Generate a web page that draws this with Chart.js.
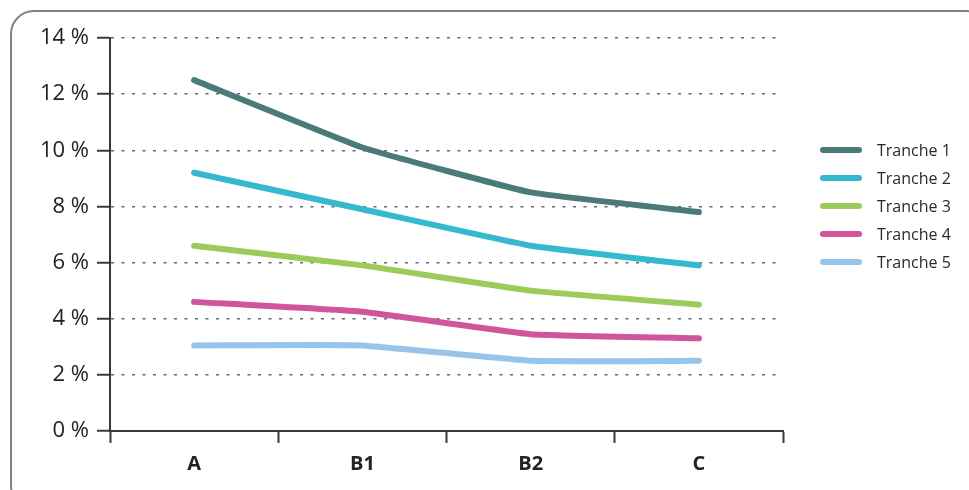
<!DOCTYPE html>
<html>
<head>
<meta charset="utf-8">
<script src="https://cdn.jsdelivr.net/npm/chart.js@4.4.0/dist/chart.umd.min.js"></script>
<style>
  html, body { margin: 0; padding: 0; background: #fff; }
  #wrap { position: relative; width: 969px; height: 490px; overflow: hidden; font-family: "Open Sans", "Noto Sans", sans-serif; }
  #frame { position: absolute; left: 10px; top: 10px; width: 980px; height: 500px; border: 2px solid #7d828c; border-radius: 24px; box-sizing: border-box; }
  #c { position: absolute; left: 0; top: 0; }
  #legend { position: absolute; left: 820px; top: 136px; }
  .item { height: 28px; display: flex; align-items: center; }
  .sw { width: 42px; height: 6px; border-radius: 3px; margin-right: 15px; }
  .lbl { font-size: 16px; color: #2b2b2b; }
</style>
</head>
<body>
<div id="wrap">
  <div id="frame"></div>
  <canvas id="c" width="969" height="490"></canvas>
  <div id="legend"></div>
</div>
<script>
const categories = ["A", "B1", "B2", "C"];
const seriesNames = ["Tranche 1", "Tranche 2", "Tranche 3", "Tranche 4", "Tranche 5"];
const tranche1 = [12.5, 10.1, 8.5, 7.8];
const tranche2 = [9.2, 7.9, 6.6, 5.9];
const tranche3 = [6.6, 5.9, 5.0, 4.5];
const tranche4 = [4.6, 4.25, 3.45, 3.3];
const tranche5 = [3.05, 3.05, 2.5, 2.5];
const yTicks = [0, 2, 4, 6, 8, 10, 12, 14];
const colors = ["#4a7b79", "#36b8cf", "#9dcb5b", "#d0559a", "#98c4ea"];

const seriesValues = [tranche1, tranche2, tranche3, tranche4, tranche5];

const legend = document.getElementById('legend');
seriesNames.forEach((n, i) => {
  const d = document.createElement('div');
  d.className = 'item';
  d.innerHTML = '<div class="sw" style="background:' + colors[i] + '"></div><span class="lbl">' + n + '</span>';
  legend.appendChild(d);
});

new Chart(document.getElementById('c'), {
  type: 'line',
  data: {
    labels: categories,
    datasets: seriesValues.map((v, i) => ({
      label: seriesNames[i],
      data: v,
      borderColor: colors[i],
      backgroundColor: colors[i],
      borderWidth: 6,
      borderCapStyle: 'round',
      borderJoinStyle: 'round',
      pointRadius: 0,
      tension: 0.1,
      fill: false
    }))
  },
  options: {
    responsive: false,
    animation: false,
    layout: { padding: { left: 0, right: 186, top: 38, bottom: 0 } },
    plugins: { legend: { display: false }, tooltip: { enabled: false } },
    scales: {
      x: {
        offset: true,
        grid: { offset: true, drawOnChartArea: false, tickLength: 12, tickColor: '#3a3a3a', tickWidth: 2 },
        border: { display: true, color: '#3a3a3a', width: 2 },
        ticks: { color: '#222', font: { family: '"Open Sans", "Noto Sans", sans-serif', size: 20, weight: 'bold' }, padding: 9 },
        afterFit: s => { s.height = 490 - 431; }
      },
      y: {
        min: 0, max: 14,
        afterBuildTicks: s => { s.ticks = yTicks.map(v => ({ value: v })); },
        grid: { color: '#626877', lineWidth: 1.5, tickLength: 13, tickColor: '#3a3a3a', tickWidth: 2, tickBorderDash: [] },
        border: { display: true, color: '#3a3a3a', width: 2, dash: [3, 7.5] },
        ticks: { color: '#222', font: { family: '"Open Sans", "Noto Sans", sans-serif', size: 22 }, padding: 8, callback: v => v + ' %' },
        afterFit: s => { s.width = 110; }
      }
    }
  }
});
</script>
</body>
</html>
